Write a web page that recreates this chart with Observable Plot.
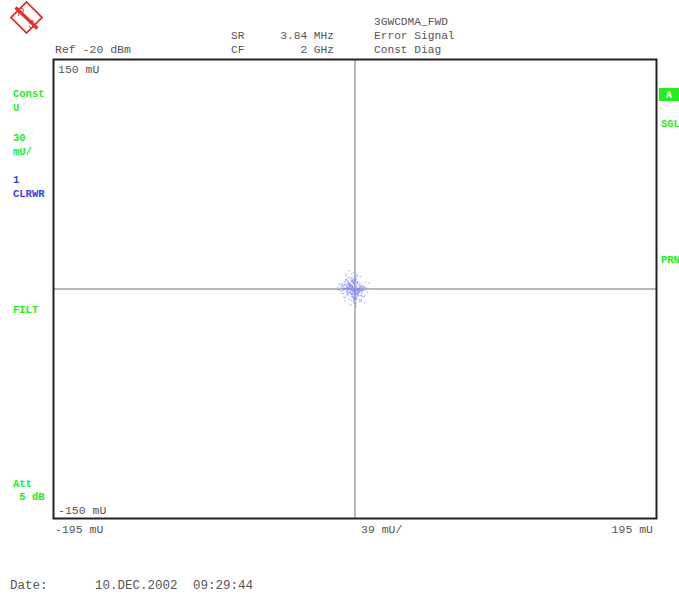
<!DOCTYPE html>
<html><head><meta charset="utf-8">
<script src="https://cdn.jsdelivr.net/npm/d3@7"></script>
<script src="https://cdn.jsdelivr.net/npm/@observablehq/plot@0.6"></script>
<style>body{margin:0;background:#fff}</style>
</head><body><div id="chart"></div>
<script>
// Constellation error points (mU)
const iVals = [-1.2,0.8,-3.5,2.1,-0.4,4.6,-6.2,1.5,-2.8,0.3,3.9,-5.1,-0.9,2.7,-4.3,6.8,-1.7,0.5,-7.4,3.2,
1.1,-2.2,5.3,-3.9,0.1,-0.7,2.4,-5.8,4.1,-1.5,7.6,-3.0,0.9,-8.3,1.8,-2.6,3.5,-4.7,6.1,-0.2,
-1.9,2.9,-6.6,0.6,4.4,-3.3,1.3,-9.1,5.7,-0.5,2.2,-4.1,8.2,-2.0,0.2,-5.5,3.7,-1.1,6.5,-3.7,
0.4,-2.4,4.9,-7.0,1.6,-0.8,3.0,-4.9,9.0,-1.4,2.6,-6.0,0.7,-3.1,5.0,-10.2,1.9,-0.3,4.2,-2.9,
-0.6,1.4,-4.5,3.3,-2.1,5.9,-1.0,0.0,-5.3,2.3,-3.6,7.1,-0.1,1.0,-6.9,4.0,-2.5,0.6,-1.3,3.6,
-4.0,2.0,-0.9,6.3,-3.2,1.2,-7.8,4.8,-1.6,0.3,2.8,-5.0,-2.3,1.7,-0.5,5.5,-3.8,0.8,-6.4,3.1,
-1.8,4.3,-2.7,0.1,-8.8,2.5,-0.2,6.0,-4.4,1.5,-1.1,3.8,-5.6,0.5,-2.9,7.9,-0.8,2.0,-3.4,4.5,
-6.8,0.9,-1.5,3.4,-4.6,1.1,-0.4,5.2,-2.2,-9.6,2.7,-1.0,0.4,-3.9,6.6,-5.2,1.8,-0.7,3.0,-2.6,
0.2,-4.2,4.7,-1.4,2.3,-7.2,0.6,-3.0,5.6,-0.9,1.3,-5.9,3.7,-2.0,10.1,-1.2,0.0,-4.8,2.6,-3.5,
1.7,-0.6,3.1,-2.4,5.8,-4.0,0.3,-1.7,2.5,-6.3,4.2,-0.1,1.9,-3.3,0.7,-5.4,3.4,-1.0,6.9,-2.7,
-0.3,2.2,-4.6,1.0,-1.9,4.9,-3.6,0.5,-7.6,2.8,-0.9,1.4,-2.1,5.1,-4.9,0.2,3.6,-1.4,-8.0,2.1,
0.9,-3.0,4.1,-0.7,1.6,-5.7,2.9,-2.3,7.3,-1.1,0.0,-4.2,3.0,-0.4,-6.1,1.3,5.4,-2.8,0.6,-1.6];
const qVals = [2.5,-1.0,4.2,-3.6,0.7,1.9,-5.4,6.3,-2.1,0.4,-7.0,3.1,-0.5,8.4,-4.0,1.2,-1.8,5.6,-2.9,-0.2,
-6.1,2.8,0.9,-3.2,10.6,-1.4,4.5,0.1,-8.3,2.0,-0.8,3.6,-4.7,1.5,-11.2,6.8,-2.4,0.3,-1.1,4.9,
1.6,-3.9,2.2,-6.7,0.5,7.5,-1.5,3.0,-0.3,-5.0,9.2,-2.6,1.0,-0.6,4.0,-7.7,2.7,-3.4,0.8,5.3,
-1.9,0.2,-4.4,3.4,-9.5,1.3,-0.1,6.1,-2.2,0.6,-3.0,4.7,-5.8,2.4,-0.9,1.1,-6.5,3.9,-1.6,12.0,
-2.8,5.0,0.0,-4.1,1.8,-0.7,7.0,-3.5,2.9,-1.2,0.5,-8.9,4.4,-2.0,1.4,-0.4,3.2,-6.0,5.9,-1.3,
0.8,-5.2,2.1,-0.1,-3.8,6.6,-1.7,1.7,-7.3,3.5,-0.6,9.8,-2.5,0.4,-4.6,2.6,-1.0,5.4,-3.1,0.0,
-10.4,1.2,-2.3,4.1,-0.8,3.8,-5.6,1.9,-1.5,7.2,-3.7,0.7,-0.2,2.4,-6.3,4.6,-2.7,1.0,-0.5,8.1,
-1.1,3.3,-4.9,0.3,5.8,-2.0,1.6,-7.9,2.2,-0.3,4.3,-3.3,6.9,-1.8,0.9,-5.5,3.0,-0.7,-2.4,1.4,
-9.0,2.8,-0.9,4.8,-3.0,0.6,-6.8,1.1,-1.6,5.1,-4.3,2.3,0.2,-2.6,3.7,-0.4,-7.5,6.2,-1.2,0.5,
-3.4,5.5,-0.6,2.0,-4.8,1.0,-1.4,7.8,-2.2,0.3,3.9,-6.2,1.7,-0.2,-2.9,4.4,-1.0,0.9,-5.1,2.6,
6.0,-0.8,1.3,-3.5,0.1,-7.1,3.2,-1.6,2.4,-0.4,5.0,-2.5,0.7,-4.4,8.8,-1.3,2.0,-0.6,3.5,-5.9,
-0.1,4.0,-2.0,1.5,-6.6,0.4,-1.8,3.6,-3.9,10.0,-0.9,2.2,-4.5,1.1,-0.3,6.5,-2.7,0.6,-8.1,3.0];
const pts = iVals.map((v, k) => ({i: v - 1.0, q: qVals[k]}));

// Tick / header labels
const yTickLabels = [{v: 150, t: "150 mU"}, {v: -150, t: "-150 mU"}];
const xTickLabels = [{t: "-195 mU", anchor: "start"}, {t: "39 mU/", anchor: "start"}, {t: "195 mU", anchor: "end"}];
const leftLabels = [
  {t: "Const", y: 97, c: "#22ee22"}, {t: "U", y: 111, c: "#22ee22"},
  {t: "30", y: 141, c: "#22ee22"}, {t: "mU/", y: 155, c: "#22ee22"},
  {t: "1", y: 183, c: "#3344ee"}, {t: "CLRWR", y: 197, c: "#3344ee"},
  {t: "FILT", y: 313, c: "#22ee22"}, {t: "Att", y: 487, c: "#22ee22"}, {t: " 5 dB", y: 500, c: "#22ee22"}
];
const rightLabels = [{t: "SGL", y: 127}, {t: "PRN", y: 263}];

const W = 679, H = 595;
const chart = Plot.plot({
  width: W, height: H,
  marginLeft: 53, marginRight: 23, marginTop: 59, marginBottom: 77,
  x: {domain: [-195, 195], axis: null},
  y: {domain: [-150, 150], axis: null},
  style: {background: "#fff"},
  marks: [
    Plot.ruleX([0], {stroke: "#a0a0a0", strokeWidth: 1.5}),
    Plot.ruleY([0], {stroke: "#a0a0a0", strokeWidth: 1.5}),
    Plot.dot(pts, {x: "i", y: "q", r: 0.8, fill: "#7f7fff", fillOpacity: 0.6, stroke: "none"}),
    Plot.frame({stroke: "#222", strokeWidth: 2})
  ]
});
document.getElementById("chart").appendChild(chart);

const svg = d3.select(chart);
const mono = "'Liberation Mono','DejaVu Sans Mono',monospace";
function txt(x, y, t, opts = {}) {
  svg.append("text").attr("x", x).attr("y", y).text(t)
    .attr("font-family", mono).attr("font-size", opts.size || 11.2)
    .attr("font-weight", opts.bold ? "bold" : "normal")
    .attr("fill", opts.fill || "#555")
    .attr("text-anchor", opts.anchor || "start")
    .attr("xml:space", "preserve").style("white-space", "pre");
}
// header
txt(55, 53, "Ref -20 dBm", {size: 11.5});
txt(231, 39, "SR"); txt(334, 39, "3.84 MHz", {anchor: "end"});
txt(231, 53, "CF"); txt(334, 53, "2 GHz", {anchor: "end"});
txt(374, 25, "3GWCDMA_FWD"); txt(374, 39, "Error Signal"); txt(374, 53, "Const Diag");
// y tick labels inside frame
txt(58, 73, yTickLabels[0].t, {size: 11.5});
txt(58, 514, yTickLabels[1].t, {size: 11.5});
// x tick labels below frame
txt(55, 533, xTickLabels[0].t, {size: 11.5});
txt(361, 533, xTickLabels[1].t, {size: 11.5});
txt(653, 533, xTickLabels[2].t, {size: 11.5, anchor: "end"});
// date
txt(10, 589, "Date:", {size: 12.5}); txt(95, 589, "10.DEC.2002", {size: 12.5}); txt(193, 589, "09:29:44", {size: 12.5});
// left status labels
leftLabels.forEach(d => txt(13, d.y, d.t, {fill: d.c, bold: true, size: 10.5}));
// right labels
svg.append("rect").attr("x", 659).attr("y", 88).attr("width", 20).attr("height", 13).attr("fill", "#22ee22");
txt(669, 98, "A", {fill: "#fff", bold: true, size: 10.5, anchor: "middle"});
rightLabels.forEach(d => txt(661, d.y, d.t, {fill: "#22ee22", bold: true, size: 10.5}));
// logo
const g = svg.append("g").attr("transform", "translate(26.5,17.5)");
g.append("rect").attr("x", -11).attr("y", -11).attr("width", 22).attr("height", 22)
  .attr("transform", "rotate(45)").attr("fill", "none").attr("stroke", "#e03030").attr("stroke-width", 1.8);
g.append("line").attr("x1", -11).attr("y1", -10).attr("x2", 11).attr("y2", 11)
  .attr("stroke", "#e03030").attr("stroke-width", 3.2);
g.append("text").attr("x", -5.5).attr("y", -2).text("R").attr("font-family", "'Liberation Sans',sans-serif")
  .attr("font-size", 10).attr("fill", "#e03030").attr("text-anchor", "middle");
g.append("text").attr("x", 5).attr("y", 10).text("S").attr("font-family", "'Liberation Sans',sans-serif")
  .attr("font-size", 10).attr("fill", "#e03030").attr("text-anchor", "middle");
</script>
</body></html>
